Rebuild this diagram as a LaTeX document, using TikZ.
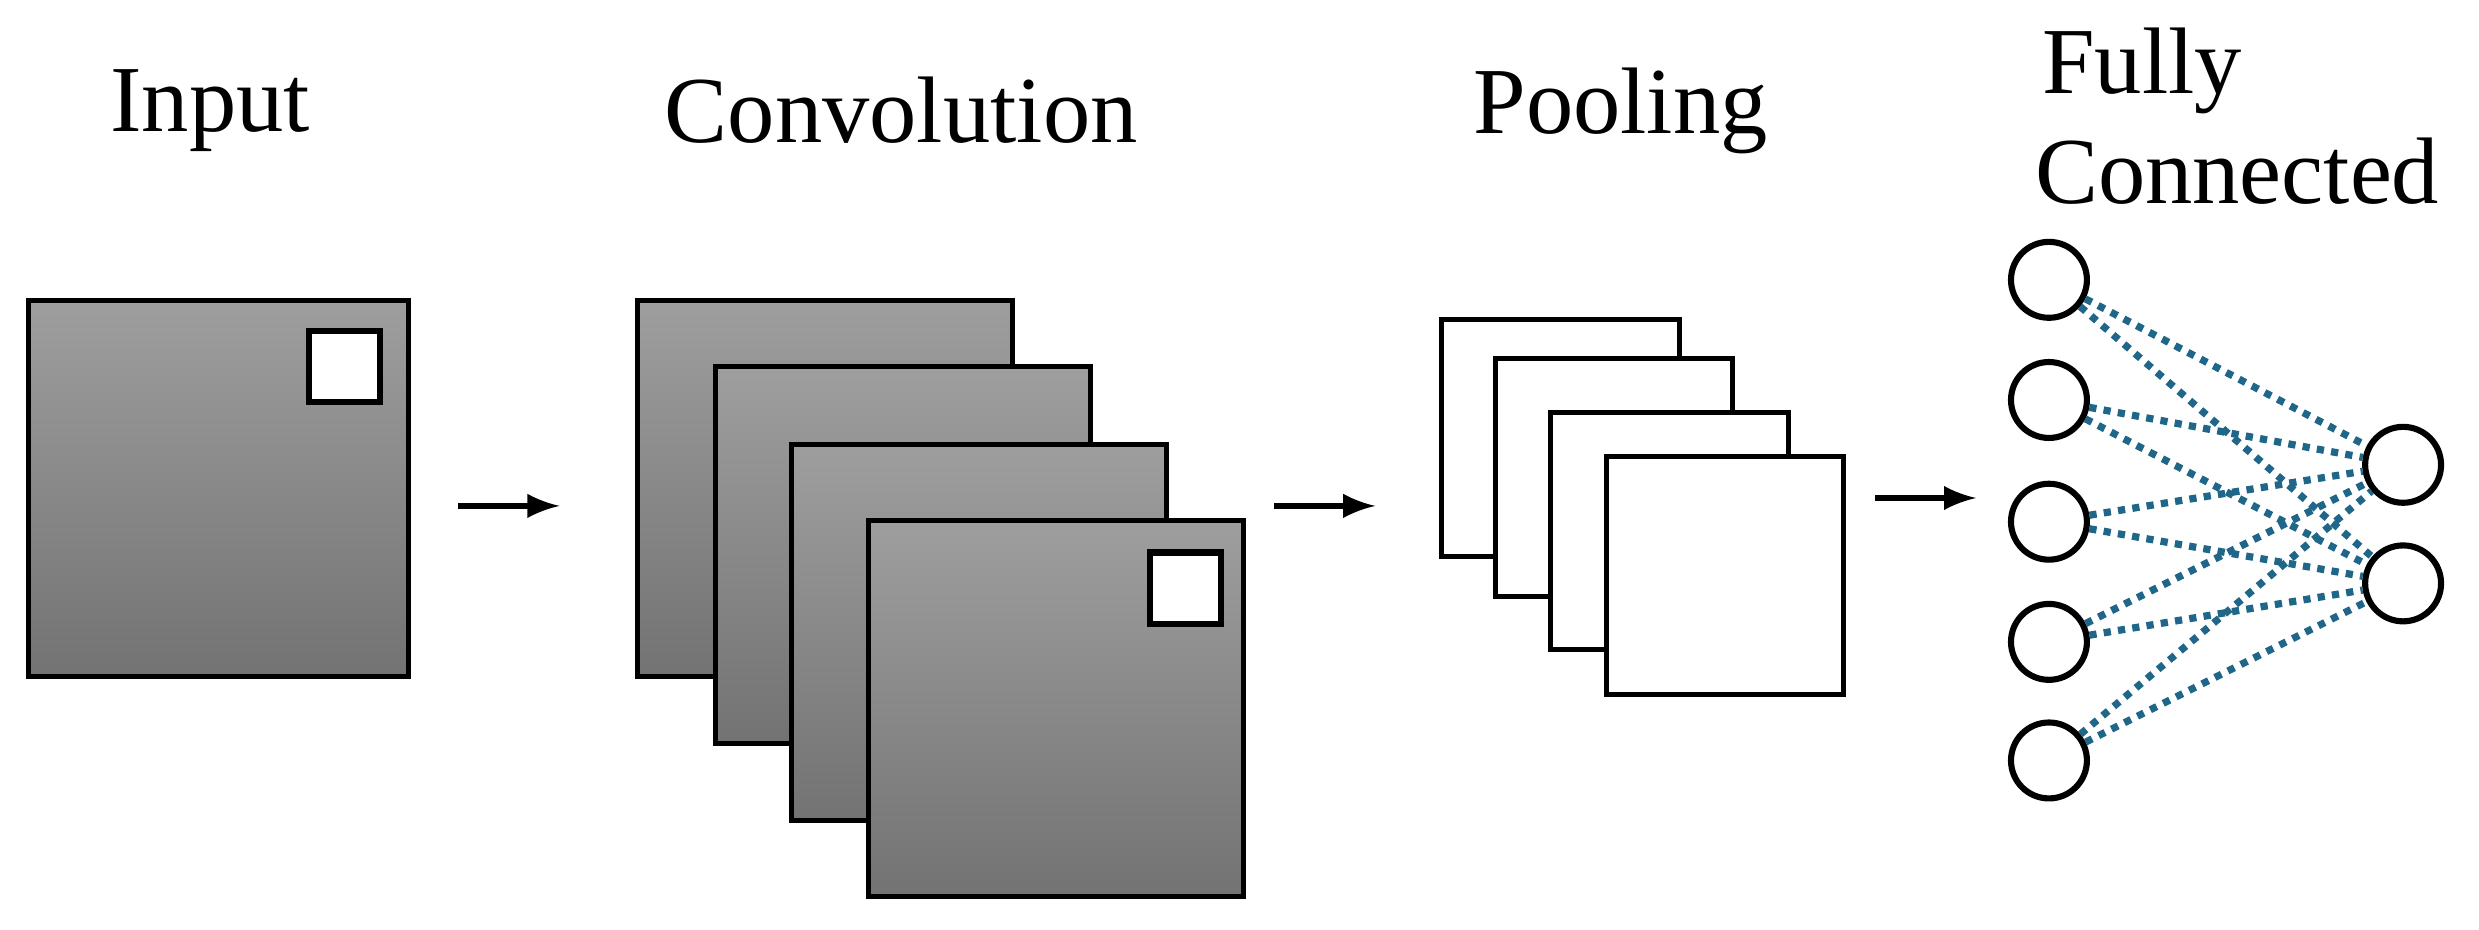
\documentclass[tikz,border=0pt]{standalone}
\usepackage{fontspec}
\setmainfont{Liberation Serif}
\usetikzlibrary{arrows,shapes}
\definecolor{linkblue}{HTML}{1F6688}
\tikzset{
  map/.style={draw, line width=0.9pt, inner sep=0pt, shading=axis,
    top color=black!38, bottom color=black!55},
  pool/.style={draw, line width=0.9pt, inner sep=0pt, fill=white,
    minimum width=1.5cm, minimum height=1.5cm},
  window/.style={draw, line width=1.1pt, fill=white, inner sep=0pt,
    minimum size=0.45cm},
  neuron/.style={circle, draw, line width=1.1pt, fill=white, inner sep=0pt,
    minimum size=0.48cm},
  link/.style={draw=linkblue, line width=1.3pt, dash pattern=on 1.3pt off 1.3pt},
  stage/.style={-latex, line width=1pt},
  title/.style={font=\fontsize{17}{19}\selectfont}
}
\begin{document}
\begin{tikzpicture}[x=0.01cm, y=-0.01cm]
    \useasboundingbox (0,0) rectangle (1568,588);
    % Titles
    \node[title] (tinput) at (133,70) {Input};
    \node[title] (tconv)  at (570,70) {Convolution};
    \node[title] (tpool)  at (1025,70) {Pooling};
    \node[title] (tfully) at (1355,45) {Fully};
    \node[title] (tconn)  at (1415,108) {Connected};
    \begin{scope}
      % Input image
      \node(input)[map, minimum width=2.4cm, minimum height=2.38cm] at (138,309) {};
      \node(inwin)[window] at (218,232) {};
    \end{scope}
    \begin{scope}
      % Feature maps
      \node(conv1)[map, minimum width=2.37cm, minimum height=2.38cm] at (522,309) {};
      \node(conv2)[map, minimum width=2.37cm, minimum height=2.38cm] at (571,351) {};
      \node(conv3)[map, minimum width=2.37cm, minimum height=2.38cm] at (619,400) {};
      \node(conv4)[map, minimum width=2.37cm, minimum height=2.38cm] at (668,448) {};
      \node(convwin)[window] at (750,372) {};
    \end{scope}
    \begin{scope}
      % Pooled maps
      \node(pool1)[pool] at (987,277) {};
      \node(pool2)[pool] at (1021,302) {};
      \node(pool3)[pool] at (1056,336) {};
      \node(pool4)[pool] at (1091,364) {};
    \end{scope}
    \begin{scope}
      % Neurons
      \node(l1)[neuron] at (1296,177) {};
      \node(l2)[neuron] at (1296,253) {};
      \node(l3)[neuron] at (1296,330) {};
      \node(l4)[neuron] at (1296,406) {};
      \node(l5)[neuron] at (1296,481) {};
      \node(r1)[neuron] at (1520,294) {};
      \node(r2)[neuron] at (1520,369) {};
    \end{scope}
    \coordinate (a1s) at (290,320); \coordinate (a1e) at (354,320);
    \coordinate (a2s) at (806,320); \coordinate (a2e) at (870,320);
    \coordinate (a3s) at (1186,315); \coordinate (a3e) at (1250,315);
    \path (a1s) edge[stage] (a1e);
    \path (a2s) edge[stage] (a2e);
    \path (a3s) edge[stage] (a3e);
    \foreach \i in {1,...,5}
      \foreach \j in {1,2}
        \path (l\i) edge[link] (r\j);
\end{tikzpicture}
\end{document}
